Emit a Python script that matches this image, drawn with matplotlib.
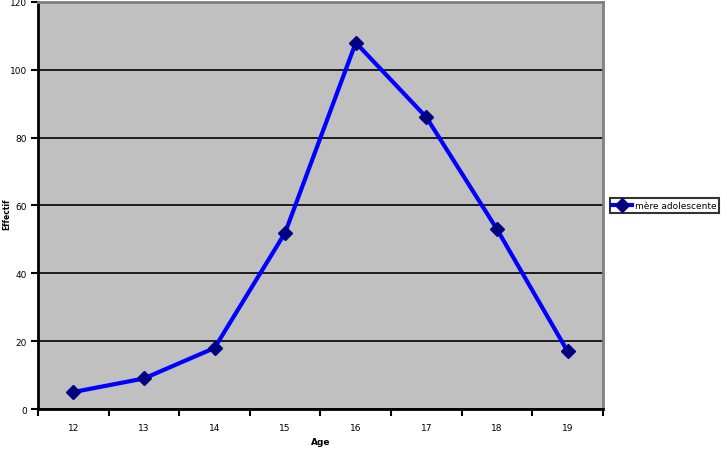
import matplotlib as mpl
mpl.use('Agg')
import matplotlib.pyplot as plt
import numpy as np

plt.rcParams['font.family'] = ['DejaVu Sans']

ages = ['12', '13', '14', '15', '16', '17', '18', '19']
effectif = [5, 9, 18, 52, 108, 86, 53, 17]
series_name = 'mère adolescente'

fig = plt.figure(figsize=(7.27, 4.52), dpi=100)
ax = fig.add_axes([0.0523, 0.0929, 0.777, 0.9005])
ax.set_facecolor('#C0C0C0')

x = np.arange(len(ages))
ax.plot(x, effectif, color='#0000FF', lw=3, marker='D', ms=7,
        markerfacecolor='#000080', markeredgecolor='#000080', label=series_name,
        zorder=3)

ax.set_xlim(-0.5, len(ages) - 0.5)
ax.set_ylim(0, 120)
ax.set_yticks(range(0, 121, 20))
ax.yaxis.grid(True, color='black', lw=1.2)
ax.set_axisbelow(True)

# category axis: labels at centers, ticks between categories
ax.set_xticks(x)
ax.set_xticklabels(ages)
ax.set_xticks(np.arange(-0.5, len(ages)), minor=True)
ax.tick_params(axis='x', which='major', length=0, pad=10, labelsize=6.5)
ax.tick_params(axis='x', which='minor', length=5, width=1.5, direction='out')
ax.tick_params(axis='y', length=5, width=1.5, direction='out', labelsize=6.5, pad=3)

for s in ['left', 'bottom']:
    ax.spines[s].set_color('black')
    ax.spines[s].set_linewidth(2)
for s in ['top', 'right']:
    ax.spines[s].set_color('#808080')
    ax.spines[s].set_linewidth(2)

ax.set_xlabel('Age', fontsize=6.5, fontweight='bold', labelpad=4)
ax.set_ylabel('Effectif', fontsize=5.5, fontweight='bold')
ax.yaxis.set_label_coords(-0.047, 0.48)

leg = ax.legend(loc='center left', bbox_to_anchor=(1.012, 0.5), fontsize=6.5,
                frameon=True, fancybox=False, borderaxespad=0, handlelength=2.2,
                handletextpad=0.3, borderpad=0.3)
leg.get_frame().set_edgecolor('black')
leg.get_frame().set_linewidth(1.5)

fig.savefig('out.png', dpi=100)
